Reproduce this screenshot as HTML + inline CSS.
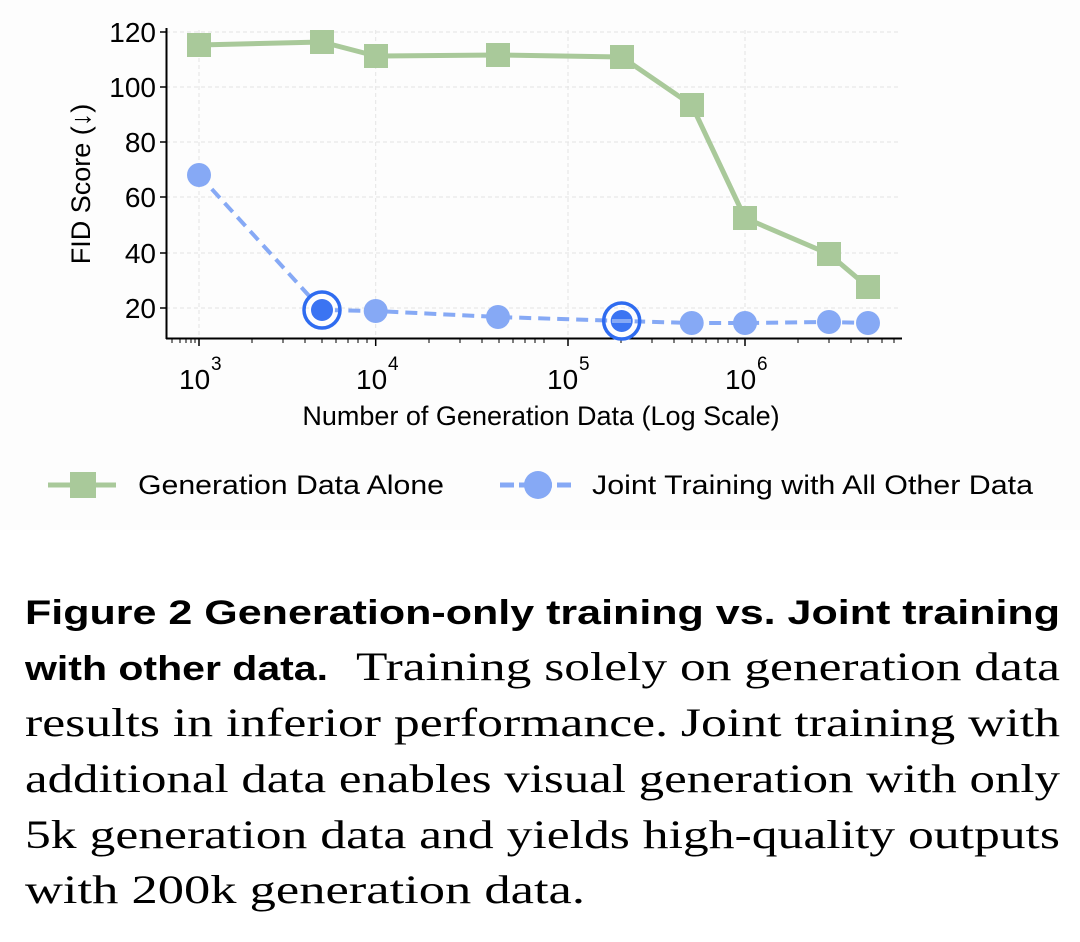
<!DOCTYPE html>
<html><head><meta charset="utf-8"><style>body{margin:0;background:#fff}svg{display:block}</style></head><body>
<svg width="1080" height="942" viewBox="0 0 1080 942" xmlns="http://www.w3.org/2000/svg" font-family="Liberation Sans, sans-serif">
<rect width="1080" height="942" fill="#fff"/>
<rect x="0" y="0" width="1080" height="530" fill="#fdfdfd"/>
<g stroke="#e4e4e4" stroke-width="1" stroke-dasharray="4,3">
<line x1="166" y1="32" x2="901" y2="32"/><line x1="166" y1="87" x2="901" y2="87"/><line x1="166" y1="142" x2="901" y2="142"/><line x1="166" y1="197" x2="901" y2="197"/><line x1="166" y1="253" x2="901" y2="253"/><line x1="166" y1="308" x2="901" y2="308"/>
<line x1="199" y1="30" x2="199" y2="338"/><line x1="375.7" y1="30" x2="375.7" y2="338"/><line x1="568" y1="30" x2="568" y2="338"/><line x1="745" y1="30" x2="745" y2="338"/>
</g>
<line x1="166.5" y1="28" x2="166.5" y2="339" stroke="#000" stroke-width="2"/>
<line x1="166" y1="338.5" x2="902" y2="338.5" stroke="#000" stroke-width="2"/>
<g stroke="#000" stroke-width="1.5">
<line x1="160" y1="32" x2="166" y2="32"/><line x1="160" y1="87" x2="166" y2="87"/><line x1="160" y1="142" x2="166" y2="142"/><line x1="160" y1="197" x2="166" y2="197"/><line x1="160" y1="253" x2="166" y2="253"/><line x1="160" y1="308" x2="166" y2="308"/>
<line x1="199" y1="338" x2="199" y2="346"/><line x1="375.7" y1="338" x2="375.7" y2="346"/><line x1="568" y1="338" x2="568" y2="346"/><line x1="745" y1="338" x2="745" y2="346"/>
</g>
<g stroke="#000" stroke-width="1">
<line x1="172" y1="338" x2="172" y2="343"/><line x1="180" y1="338" x2="180" y2="343"/><line x1="186" y1="338" x2="186" y2="343"/><line x1="191" y1="338" x2="191" y2="343"/><line x1="195" y1="338" x2="195" y2="343"/>
<line x1="252" y1="338" x2="252" y2="343"/><line x1="283" y1="338" x2="283" y2="343"/><line x1="305" y1="338" x2="305" y2="343"/><line x1="322" y1="338" x2="322" y2="343"/><line x1="336" y1="338" x2="336" y2="343"/><line x1="348" y1="338" x2="348" y2="343"/><line x1="358" y1="338" x2="358" y2="343"/><line x1="367" y1="338" x2="367" y2="343"/>
<line x1="429" y1="338" x2="429" y2="343"/><line x1="460" y1="338" x2="460" y2="343"/><line x1="482" y1="338" x2="482" y2="343"/><line x1="499" y1="338" x2="499" y2="343"/><line x1="513" y1="338" x2="513" y2="343"/><line x1="525" y1="338" x2="525" y2="343"/><line x1="535" y1="338" x2="535" y2="343"/><line x1="544" y1="338" x2="544" y2="343"/>
<line x1="621" y1="338" x2="621" y2="343"/><line x1="652" y1="338" x2="652" y2="343"/><line x1="674" y1="338" x2="674" y2="343"/><line x1="692" y1="338" x2="692" y2="343"/><line x1="706" y1="338" x2="706" y2="343"/><line x1="718" y1="338" x2="718" y2="343"/><line x1="728" y1="338" x2="728" y2="343"/><line x1="737" y1="338" x2="737" y2="343"/>
<line x1="798" y1="338" x2="798" y2="343"/><line x1="829" y1="338" x2="829" y2="343"/><line x1="851" y1="338" x2="851" y2="343"/><line x1="868" y1="338" x2="868" y2="343"/><line x1="882" y1="338" x2="882" y2="343"/><line x1="894" y1="338" x2="894" y2="343"/>
</g>
<g font-size="28" text-anchor="end" fill="#000">
<text x="156" y="42">120</text><text x="156" y="97">100</text><text x="156" y="152">80</text><text x="156" y="207">60</text><text x="156" y="263">40</text><text x="156" y="318">20</text>
</g>
<g font-size="28" fill="#000">
<text x="179" y="389">10</text><text x="211" y="370" font-size="19">3</text>
<text x="356" y="389">10</text><text x="388" y="370" font-size="19">4</text>
<text x="547" y="389">10</text><text x="579" y="370" font-size="19">5</text>
<text x="725" y="389">10</text><text x="757" y="370" font-size="19">6</text>
</g>
<text x="541" y="425" font-size="27" text-anchor="middle">Number of Generation Data (Log Scale)</text>
<text transform="translate(90,184) rotate(-90)" font-size="27" text-anchor="middle">FID Score (↓)</text>
<polyline points="199,45 322,42 375.7,56 498,55 621.7,57 691.7,105 745,218 829,254 868,287" fill="none" stroke="#a9c99a" stroke-width="5" stroke-linejoin="round"/>
<g fill="#a9c99a">
<rect x="187" y="33" width="24" height="24"/><rect x="310" y="30" width="24" height="24"/><rect x="364" y="44" width="24" height="24"/><rect x="486" y="43" width="24" height="24"/><rect x="610" y="45" width="24" height="24"/><rect x="680" y="93" width="24" height="24"/><rect x="733" y="206" width="24" height="24"/><rect x="817" y="242" width="24" height="24"/><rect x="856" y="275" width="24" height="24"/>
</g>
<polyline points="199,175 322,310 375.7,311 498,317 621.7,321 691.7,323 745,323 829,322 868,323" fill="none" stroke="#86a9f5" stroke-width="4" stroke-dasharray="12,7"/>
<g fill="#86a9f5">
<circle cx="199" cy="175" r="12"/><circle cx="375.7" cy="311" r="12"/><circle cx="498" cy="317" r="12"/><circle cx="691.7" cy="323" r="12"/><circle cx="745" cy="323" r="12"/><circle cx="829" cy="322" r="12"/><circle cx="868" cy="323" r="12"/>
</g>
<g>
<circle cx="322" cy="310" r="18" fill="none" stroke="#2f6cf0" stroke-width="3.5"/><circle cx="322" cy="310" r="13" fill="#fff"/><circle cx="322" cy="310" r="11" fill="#3b74f2"/>
<circle cx="621.7" cy="321" r="18" fill="none" stroke="#2f6cf0" stroke-width="3.5"/><circle cx="621.7" cy="321" r="13" fill="#fff"/><circle cx="621.7" cy="321" r="11" fill="#3b74f2"/>
<line x1="612" y1="321" x2="631" y2="321" stroke="#86a9f5" stroke-width="4"/>
</g>
<line x1="48" y1="485" x2="116" y2="485" stroke="#a9c99a" stroke-width="5"/>
<rect x="70" y="472" width="26" height="26" fill="#a9c99a"/>
<text x="138" y="494" font-size="27" textLength="306" lengthAdjust="spacingAndGlyphs">Generation Data Alone</text>
<line x1="500" y1="485" x2="572" y2="485" stroke="#86a9f5" stroke-width="5" stroke-dasharray="14,5"/>
<circle cx="538" cy="485" r="14" fill="#86a9f5"/>
<text x="592" y="494" font-size="27" textLength="441" lengthAdjust="spacingAndGlyphs">Joint Training with All Other Data</text>
<g fill="#000">
<text x="25" y="624" font-size="34" font-weight="bold" textLength="1035" lengthAdjust="spacingAndGlyphs">Figure 2  Generation-only training vs.  Joint training</text>
<text x="25" y="680" font-size="34" font-weight="bold" textLength="303" lengthAdjust="spacingAndGlyphs">with other data.</text>
<g font-family="Liberation Serif, serif" font-size="40">
<text x="356" y="680" textLength="704" lengthAdjust="spacingAndGlyphs">Training solely on generation data</text>
<text x="25" y="736" textLength="1035" lengthAdjust="spacingAndGlyphs">results in inferior performance.  Joint training with</text>
<text x="25" y="792" textLength="1035" lengthAdjust="spacingAndGlyphs">additional data enables visual generation with only</text>
<text x="25" y="848" textLength="1035" lengthAdjust="spacingAndGlyphs">5k generation data and yields high-quality outputs</text>
<text x="25" y="903" textLength="560" lengthAdjust="spacingAndGlyphs">with 200k generation data.</text>
</g>
</g>
</svg>
</body></html>
